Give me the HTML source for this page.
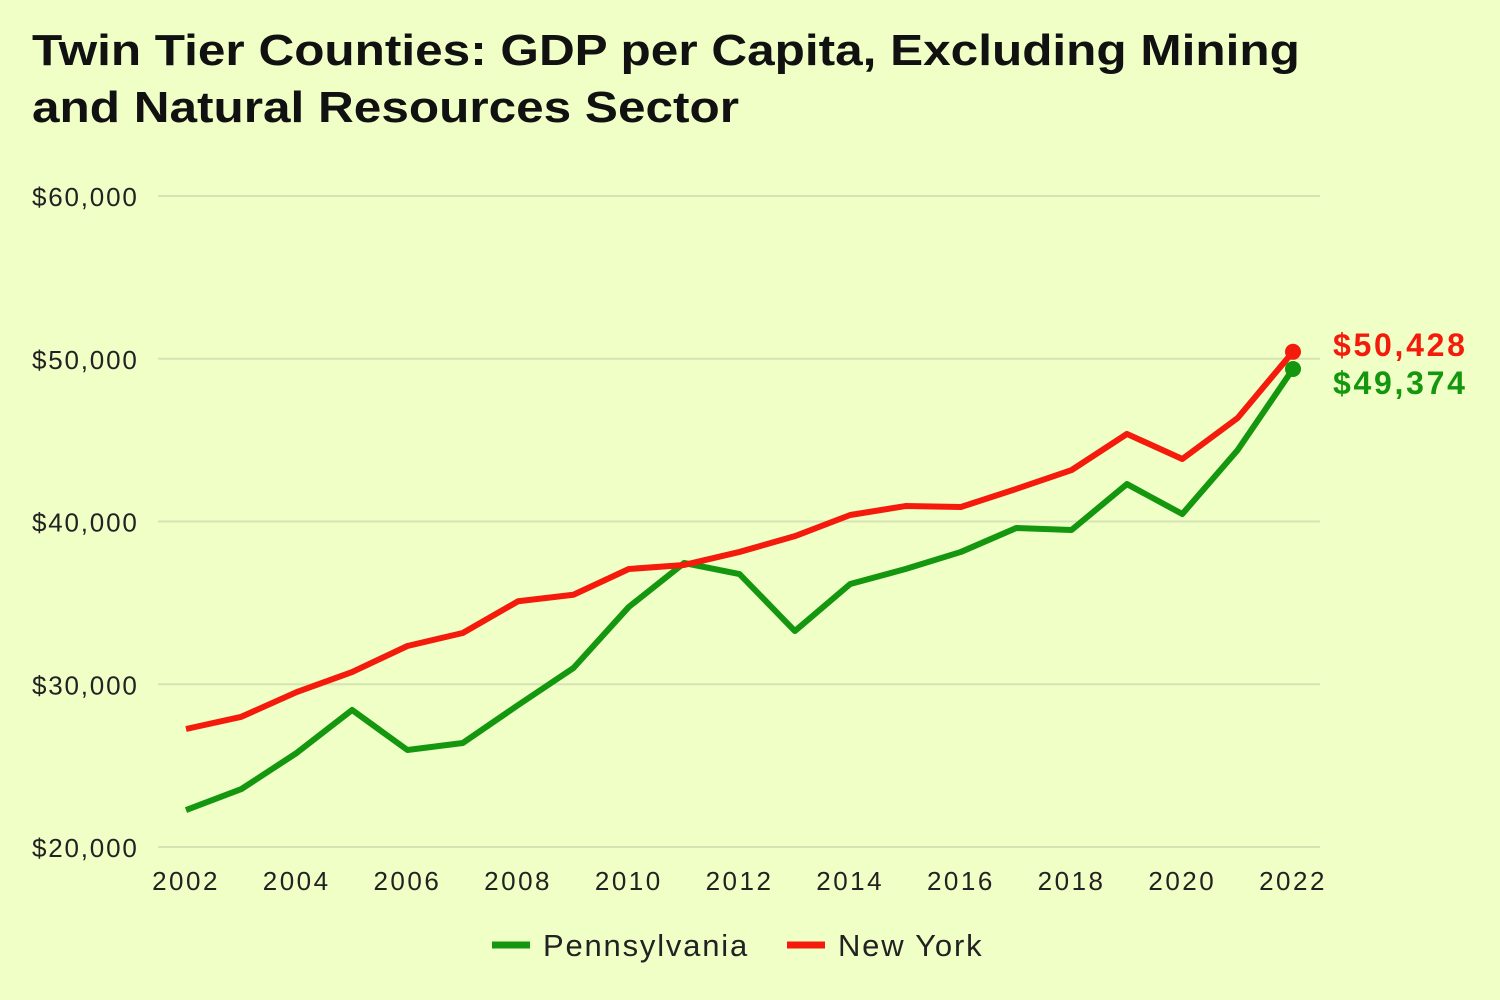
<!DOCTYPE html>
<html><head><meta charset="utf-8">
<style>
html,body{margin:0;padding:0;background:#efffc6;}
body{width:1500px;height:1000px;overflow:hidden;font-family:"Liberation Sans","DejaVu Sans",sans-serif;}
h1{position:absolute;left:32px;top:22px;margin:0;font-size:44px;line-height:57px;font-weight:bold;color:#111;transform:scaleX(1.125);transform-origin:0 0;white-space:nowrap;}
svg{position:absolute;left:0;top:0;}
</style></head>
<body>
<h1>Twin Tier Counties: GDP per Capita, Excluding Mining<br>and Natural Resources Sector</h1>
<svg id="chart" width="1500" height="1000"></svg>
<script>
const years=[2002,2003,2004,2005,2006,2007,2008,2009,2010,2011,2012,2013,2014,2015,2016,2017,2018,2019,2020,2021,2022];
const paValues=[22270,23560,25780,28420,25960,26390,28720,31000,34750,37450,36770,33270,36160,37080,38130,39600,39480,42300,40460,44390,49374];
const nyValues=[27250,28000,29520,30750,32350,33150,35100,35500,37080,37330,38130,39100,40400,40950,40890,42000,43160,45380,43840,46360,50428];
const yTicks=[20000,30000,40000,50000,60000];
const yTickLabels=["$20,000","$30,000","$40,000","$50,000","$60,000"];
const xTicks=[2002,2004,2006,2008,2010,2012,2014,2016,2018,2020,2022];
const endLabels=["$49,374","$50,428"];

const NS="http://www.w3.org/2000/svg";
const svg=document.getElementById('chart');
const X=y=>186+(y-2002)*(1293-186)/20;
const Y=v=>847-(v-20000)*(847-196)/40000;
function mk(t,a){const e=document.createElementNS(NS,t);for(const k in a)e.setAttribute(k,a[k]);svg.appendChild(e);return e;}

yTicks.forEach((t,i)=>{
  const l=mk('line',{x1:158,x2:1320,y1:Y(t),y2:Y(t),stroke:'#d6e3b4','stroke-width':2});
  
  
  const tx=mk('text',{x:32,y:Y(t)+10,'font-size':26,fill:'#222','letter-spacing':'1.8'});
  tx.textContent=yTickLabels[i];
  
  
});
xTicks.forEach(t=>{
  const tx=mk('text',{x:X(t),y:890,'font-size':26,fill:'#222','text-anchor':'middle','letter-spacing':'2.5'});
  tx.textContent=t;
  
  
});
function series(vals,color,name,label,dy){
  const p=mk('polyline',{points:vals.map((v,i)=>X(years[i])+','+Y(v)).join(' '),fill:'none',stroke:color,'stroke-width':6,'stroke-linejoin':'round'});
  
  
  const last=vals.length-1;
  const c=mk('circle',{cx:X(years[last]),cy:Y(vals[last]),r:8,fill:color});
  
  
  const t=mk('text',{x:1333,y:Y(vals[last])+dy,'font-size':32,'font-weight':'bold',fill:color,'letter-spacing':'2.7'});
  t.textContent=label;
  
  
}
series(paValues,'#14960f','pennsylvania',endLabels[0],25);
series(nyValues,'#f51b0c','new-york',endLabels[1],4);

const lg=[['#14960f','Pennsylvania',492],['#f51b0c','New York',787]];
lg.forEach(([c,n,x])=>{
  const l=mk('line',{x1:x,x2:x+38,y1:945,y2:945,stroke:c,'stroke-width':7});
  
  
  const t=mk('text',{x:x+51,y:956,'font-size':31,fill:'#222','letter-spacing':'1.8'});
  t.textContent=n;
  
  
});
</script>
</body></html>
